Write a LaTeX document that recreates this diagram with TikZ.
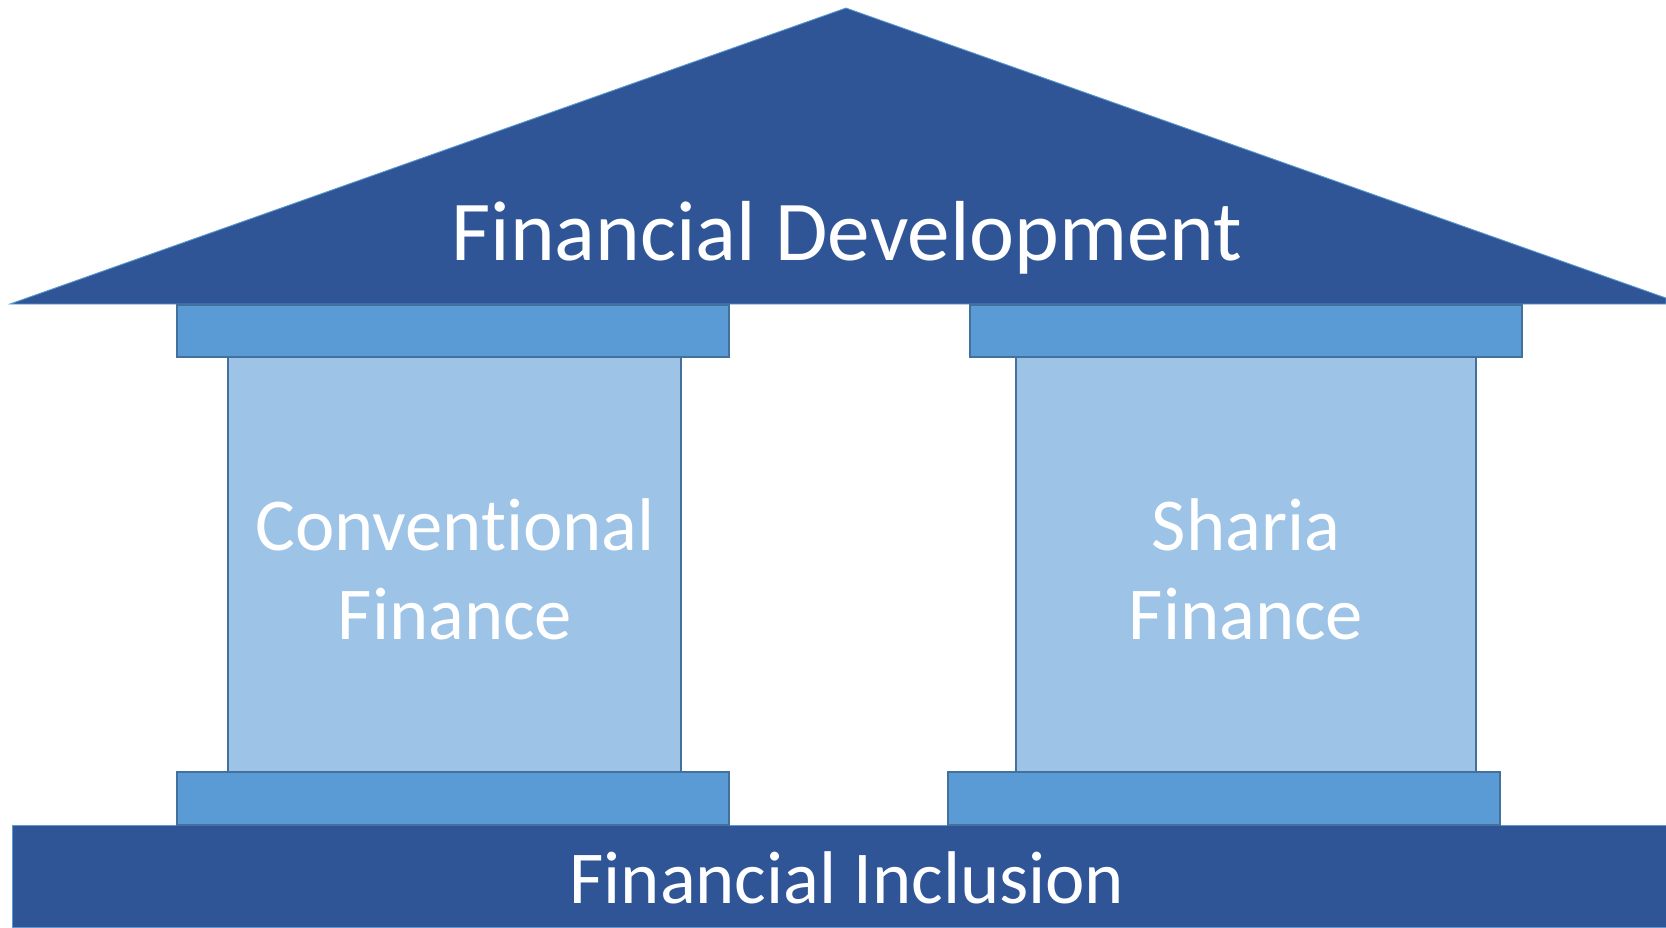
\documentclass[tikz,border=0pt]{standalone}
\usepackage{fontspec}
\setmainfont{Carlito}[Ligatures=NoCommon]
\definecolor{roofblue}{HTML}{2F5597}
\definecolor{capblue}{HTML}{5B9BD5}
\definecolor{pillarblue}{HTML}{9DC3E6}
\definecolor{edgeblue}{HTML}{41719C}

\begin{document}
\begin{tikzpicture}[x=0.02cm,y=-0.02cm,
  slab/.style={fill=capblue,draw=edgeblue,line width=1.1pt},
  pillar/.style={fill=pillarblue,draw=edgeblue,line width=1.1pt},
  whitetext/.style={text=white,inner sep=0pt,align=center,
    font=\fontsize{42.5}{50.6}\selectfont}]
\useasboundingbox (0,0) rectangle (1666,927);
% floor and roof
\fill[roofblue,draw=capblue,line width=0.5pt](12,825) rectangle (1666,927);
\fill[roofblue,draw=capblue,line width=0.5pt](10,304)--(846,8)--(1666,298)--(1666,304)--cycle;
% two pillars
\draw[pillar](228,357) rectangle (681,772);
\draw[pillar](1016,357) rectangle (1476,772);
% capitals and bases of the pillars
\draw[slab](177,305) rectangle (729,357);
\draw[slab](970,305) rectangle (1522,357);
\draw[slab](177,772) rectangle (729,825);
\draw[slab](948,772) rectangle (1500,825);
% texts
\node[whitetext,anchor=base,font=\fontsize{48.5}{58}\selectfont](dev) at (847,260){Financial Development};
\node[whitetext](conv) at (455,569){Conventional\\Finance};
\node[whitetext](sharia) at (1246,569){Sharia\\Finance};
\node[whitetext,anchor=base](incl) at (847,903){Financial Inclusion};
\end{tikzpicture}
\end{document}
